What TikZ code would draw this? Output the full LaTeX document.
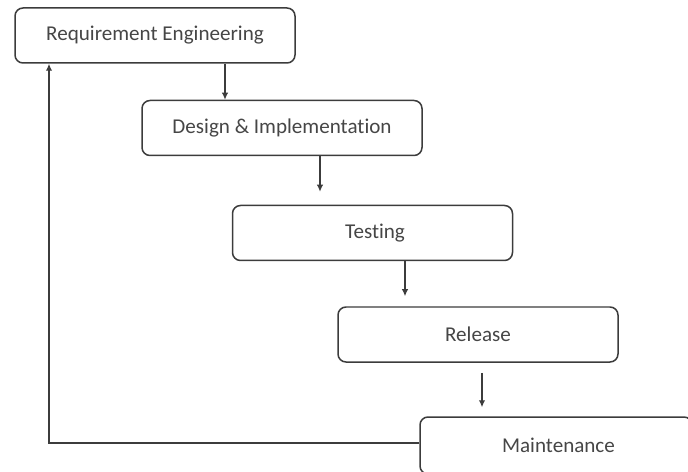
\documentclass[tikz,border=0pt]{standalone}
\usepackage{fontspec}
\setmainfont{Carlito}[Ligatures = NoCommon]
\usetikzlibrary{arrows.meta}

\definecolor{linegray}{RGB}{60,60,60}
\definecolor{textgray}{RGB}{70,70,70}

\tikzset{
	phase/.style = {draw = linegray, line width = 0.3mm, rounded corners = 1.6mm,
		minimum width = 56mm, minimum height = 11mm, inner sep = 0mm,
		text = textgray, font = \fontsize{12}{14}\selectfont},
	flow/.style = {-{Latex[length = 1.4mm, width = 1.3mm]}, draw = linegray, line width = 0.3mm}
}

\begin{document}
\begin{tikzpicture}
				\useasboundingbox (0mm, 0mm) rectangle (137.6mm, -94.4mm);
				
				% phases
				\node[phase] (req) at (31mm, -7.1mm) {Requirement Engineering};
				\node[phase] (des) at (56.4mm, -25.6mm) {Design \& Implementation};
				\node[phase] (tst) at (74.5mm, -46.6mm) {\hspace*{1mm}Testing};
				\node[phase] (rel) at (95.6mm, -66.9mm) {Release};
				\node[phase, minimum width = 54.4mm, minimum height = 11.4mm] (mnt) at (111.2mm, -89.1mm) {\hspace*{1mm}Maintenance};
				
				% arrows
				\draw[flow] ([xshift = 14mm]req.south) -- ([xshift = 14mm]req.south |- des.north);
				\draw[flow, shorten > = 2.6mm] ([xshift = 7.6mm]des.south) -- ([xshift = 7.6mm]des.south |- tst.north);
				\draw[flow, shorten > = 2mm] ([xshift = 6.5mm]tst.south) -- ([xshift = 6.5mm]tst.south |- rel.north);
				\draw[flow, shorten < = 2mm, shorten > = 1.8mm] ([xshift = 0.8mm]rel.south) -- ([xshift = 0.8mm]rel.south |- mnt.north);
				
				% feedback
				\draw[flow] ([yshift = 0.5mm]mnt.west) -| ([xshift = -21.2mm]req.south);
				
			\end{tikzpicture}
\end{document}
